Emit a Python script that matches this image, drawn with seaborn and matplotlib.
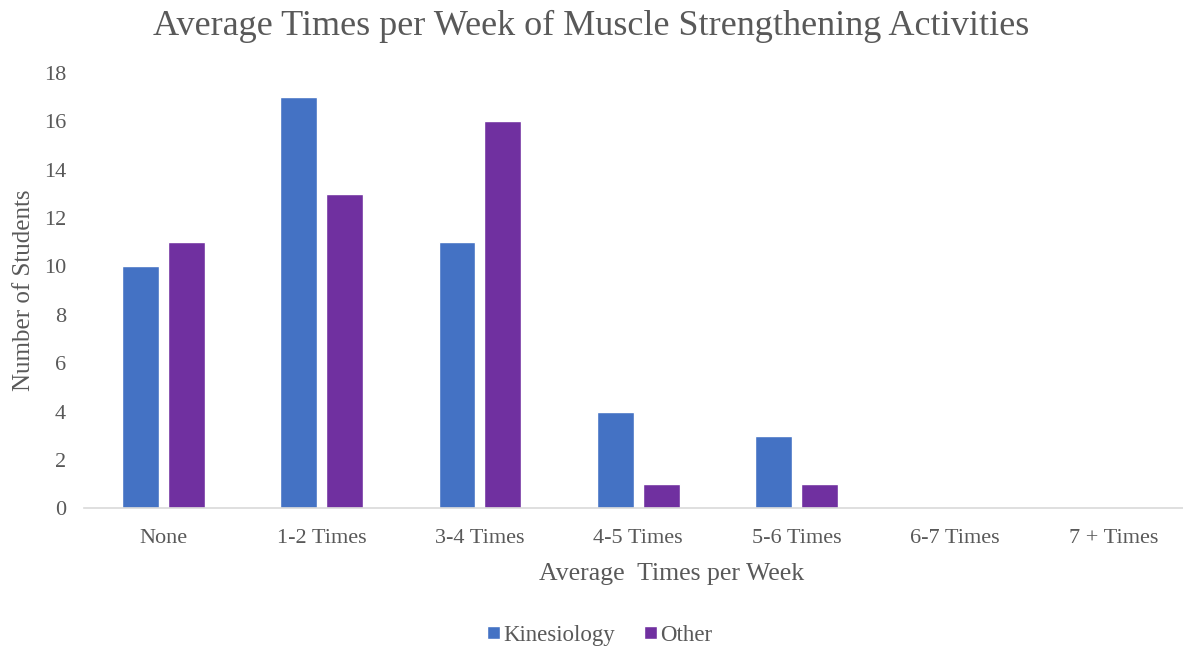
import numpy as np
import pandas as pd
import seaborn as sns
from matplotlib import pyplot as plt
from matplotlib.patches import Patch

categories = ['None', '1-2 Times', '3-4 Times', '4-5 Times', '5-6 Times', '6-7 Times', '7 + Times']
kinesiology = [10, 17, 11, 4, 3, 0, 0]
other = [11, 13, 16, 1, 1, 0, 0]
groups = ['Kinesiology', 'Other']
colors = ['#4472C4', '#7030A0']

df = pd.DataFrame({
    'category': categories * 2,
    'count': kinesiology + other,
    'group': [groups[0]] * len(categories) + [groups[1]] * len(categories),
})

sns.set_theme(style='white')
plt.rcParams['font.family'] = ['Liberation Serif', 'DejaVu Serif']
text_col = '#595959'

fig = plt.figure(figsize=(11.83, 6.5), dpi=100)
ax = fig.add_axes([0.071, 0.218, 0.929, 0.67])

sns.barplot(data=df, x='category', y='count', hue='group', order=categories,
            hue_order=groups, palette=colors, width=0.58, gap=0.2,
            saturation=1, legend=False, ax=ax)

ax.set_ylim(0, 18)
ax.set_yticks(np.arange(0, 19, 2))
ax.set_xlim(-0.5, 6.44)
ax.tick_params(axis='both', length=0, colors=text_col, labelsize=16)
ax.tick_params(axis='x', pad=15)
ax.tick_params(axis='y', pad=13)
for s in ['top', 'right', 'left']:
    ax.spines[s].set_visible(False)
ax.spines['bottom'].set_color('#D9D9D9')
ax.spines['bottom'].set_linewidth(1.2)

ax.set_xlabel('Average  Times per Week', fontsize=18.5, color=text_col)
ax.xaxis.set_label_coords(0.535, -0.125)
ax.set_ylabel('Number of Students', fontsize=18, color=text_col, labelpad=6)
fig.suptitle('Average Times per Week of Muscle Strengthening Activities',
             fontsize=26, color=text_col, y=0.985)

handles = [Patch(facecolor=c, label=g) for g, c in zip(groups, colors)]
fig.legend(handles=handles, loc='center', bbox_to_anchor=(0.507, 0.023), ncol=2,
           frameon=False, fontsize=16.5, labelcolor=text_col, handlelength=0.55,
           handleheight=0.55, handletextpad=0.15, columnspacing=1.3)

fig.savefig('out.png', dpi=100)
